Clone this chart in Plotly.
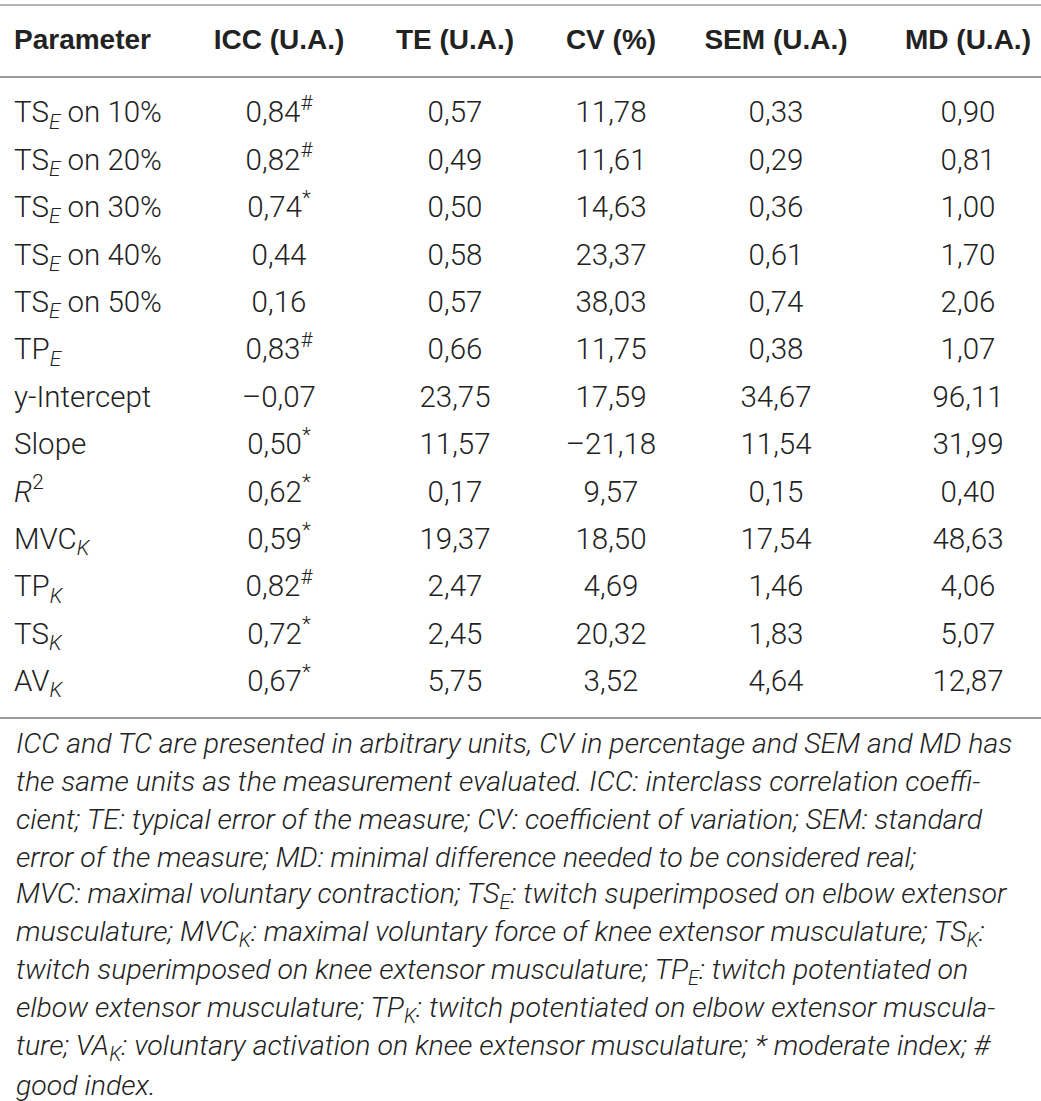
import plotly.graph_objects as go

# ---------------- data ----------------
headers = ["Parameter", "ICC (U.A.)", "TE (U.A.)", "CV (%)", "SEM (U.A.)", "MD (U.A.)"]
parameters = [
    "TS<sub><i>E</i></sub> on 10%",
    "TS<sub><i>E</i></sub> on 20%",
    "TS<sub><i>E</i></sub> on 30%",
    "TS<sub><i>E</i></sub> on 40%",
    "TS<sub><i>E</i></sub> on 50%",
    "TP<sub><i>E</i></sub>",
    "y-Intercept",
    "Slope",
    "<i>R</i><sup>2</sup>",
    "MVC<sub><i>K</i></sub>",
    "TP<sub><i>K</i></sub>",
    "TS<sub><i>K</i></sub>",
    "AV<sub><i>K</i></sub>",
]
icc = [0.84, 0.82, 0.74, 0.44, 0.16, 0.83, -0.07, 0.50, 0.62, 0.59, 0.82, 0.72, 0.67]
icc_mark = ["#", "#", "*", "", "", "#", "", "*", "*", "*", "#", "*", "*"]
te = [0.57, 0.49, 0.50, 0.58, 0.57, 0.66, 23.75, 11.57, 0.17, 19.37, 2.47, 2.45, 5.75]
cv = [11.78, 11.61, 14.63, 23.37, 38.03, 11.75, 17.59, -21.18, 9.57, 18.50, 4.69, 20.32, 3.52]
sem = [0.33, 0.29, 0.36, 0.61, 0.74, 0.38, 34.67, 11.54, 0.15, 17.54, 1.46, 1.83, 4.64]
md = [0.90, 0.81, 1.00, 1.70, 2.06, 1.07, 96.11, 31.99, 0.40, 48.63, 4.06, 5.07, 12.87]

footnote_lines = [
    "ICC and TC are presented in arbitrary units, CV in percentage and SEM and MD has",
    "the same units as the measurement evaluated. ICC: interclass correlation coeffi-",
    "cient; TE: typical error of the measure; CV: coefficient of variation; SEM: standard",
    "error of the measure; MD: minimal difference needed to be considered real;",
    "MVC: maximal voluntary contraction; TS<sub>E</sub>: twitch superimposed on elbow extensor",
    "musculature; MVC<sub>K</sub>: maximal voluntary force of knee extensor musculature; TS<sub>K</sub>:",
    "twitch superimposed on knee extensor musculature; TP<sub>E</sub>: twitch potentiated on",
    "elbow extensor musculature; TP<sub>K</sub>: twitch potentiated on elbow extensor muscula-",
    "ture; VA<sub>K</sub>: voluntary activation on knee extensor musculature; * moderate index; #",
    "good index.",
]

# ---------------- layout constants ----------------
W, H = 1041, 1101
col_x = [14, 279, 455, 611, 776, 968]
header_y = 42
row_y0, row_step = 115, 47.4
rule_ys = [5, 77, 718]
foot_y0, foot_step = 743, 38.1

BODY_FONT = "Roboto"
HEAD_FONT = "Liberation Sans"
TEXT_COLOR = "#222222"


def fmt(v, mark=""):
    s = f"{abs(v):.2f}".replace(".", ",")
    if v < 0:
        s = "\u2013" + s
    if mark:
        s += f"<sup>{mark}</sup>"
    return s


rows_y = [row_y0 + i * row_step for i in range(len(parameters))]

columns = [
    parameters,
    [fmt(v, m) for v, m in zip(icc, icc_mark)],
    [fmt(v) for v in te],
    [fmt(v) for v in cv],
    [fmt(v) for v in sem],
    [fmt(v) for v in md],
]

fig = go.Figure()

# header row
fig.add_trace(go.Scatter(
    x=col_x,
    y=[header_y] * len(headers),
    mode="text",
    text=[f"<b>{h}</b>" for h in headers],
    textposition=["middle right"] + ["middle center"] * 5,
    textfont=dict(family=HEAD_FONT, size=28, color=TEXT_COLOR),
    hoverinfo="skip",
    showlegend=False,
))

# body columns
for ci, col in enumerate(columns):
    fig.add_trace(go.Scatter(
        x=[col_x[ci]] * len(col),
        y=rows_y,
        mode="text",
        text=col,
        textposition="middle right" if ci == 0 else "middle center",
        textfont=dict(family=BODY_FONT, size=29.5, color=TEXT_COLOR, weight=300),
        hoverinfo="skip",
        showlegend=False,
    ))

# horizontal rules
for i, ry in enumerate(rule_ys):
    fig.add_shape(type="line", xref="x", yref="y", x0=0, x1=W, y0=ry, y1=ry,
                  line=dict(color="#9a9a9a" if i else "#b5b5b5", width=2))

# footnote
for i, line in enumerate(footnote_lines):
    fig.add_annotation(
        x=col_x[0], y=foot_y0 + i * foot_step, xref="x", yref="y",
        text=f"<i>{line}</i>", showarrow=False, xanchor="left", yanchor="middle",
        font=dict(family=BODY_FONT, size=28.5, color=TEXT_COLOR, weight=300),
    )

fig.update_layout(
    width=W, height=H,
    margin=dict(l=0, r=0, t=0, b=0),
    paper_bgcolor="white", plot_bgcolor="white",
    xaxis=dict(range=[0, W], visible=False, fixedrange=True),
    yaxis=dict(range=[H, 0], visible=False, fixedrange=True),
)

fig.write_html(
    "out.html",
    config={"displayModeBar": False},
    post_script="document.body.style.margin='0';document.body.style.overflow='hidden';",
)
